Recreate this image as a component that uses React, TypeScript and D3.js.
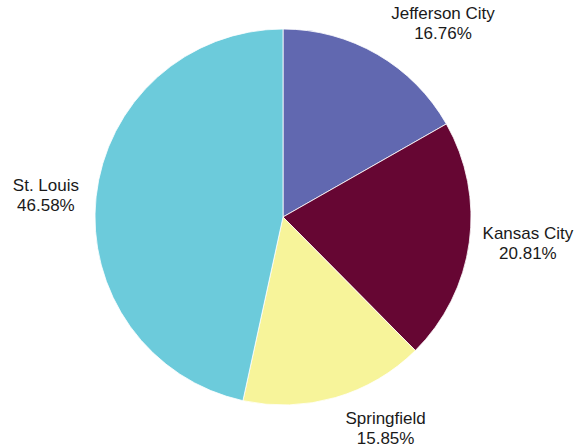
import React from "react";
import * as d3 from "d3";

const categories = ["Jefferson City", "Kansas City", "Springfield", "St. Louis"];
const values = [16.76, 20.81, 15.85, 46.58];
const colors = ["#6168b0", "#660633", "#f7f49a", "#6ccbdb"];

const W = 588;
const H = 447;
const cx = 283;
const cy = 217;
const R = 188;
const labelR = 200;
const fontSize = 17;
const lineH = 20;

export default function App() {
  const pie = d3.pie<number>().sort(null).value((d) => d)(values);
  const arc = d3.arc<d3.PieArcDatum<number>>().innerRadius(0).outerRadius(R);
  return (
    <svg width={W} height={H} style={{ position: "absolute", left: 0, top: 0 }}>
      <g transform={`translate(${cx},${cy})`}>
        {pie.map((p, i) => (
          <path key={i} d={arc(p) || ""} fill={colors[i]} stroke="#ffffff" strokeWidth={0.8} />
        ))}
        {pie.map((p, i) => {
          const a = (p.startAngle + p.endAngle) / 2;
          const s = Math.sin(a);
          const c = Math.cos(a);
          const px = labelR * s;
          const py = -labelR * c;
          const lines = [categories[i], `${values[i].toFixed(2)}%`];
          const widths = lines.map((t) => t.length * fontSize * 0.5);
          const bw = Math.max(...widths);
          const bh = lines.length * lineH;
          let boxCx = px;
          if (s > 0.1) boxCx = px + bw / 2;
          else if (s < -0.1) boxCx = px - bw / 2;
          let top = py - bh / 2;
          if (c > 0.3) top = py - bh;
          else if (c < -0.3) top = py;
          return (
            <text
              key={`l${i}`}
              textAnchor="middle"
              fontFamily="Liberation Sans, Arial, sans-serif"
              fontSize={fontSize}
              fill="#1a1a1a"
            >
              {lines.map((t, j) => (
                <tspan key={j} x={boxCx} y={top + (j + 1) * lineH - 5}>
                  {t}
                </tspan>
              ))}
            </text>
          );
        })}
      </g>
    </svg>
  );
}
